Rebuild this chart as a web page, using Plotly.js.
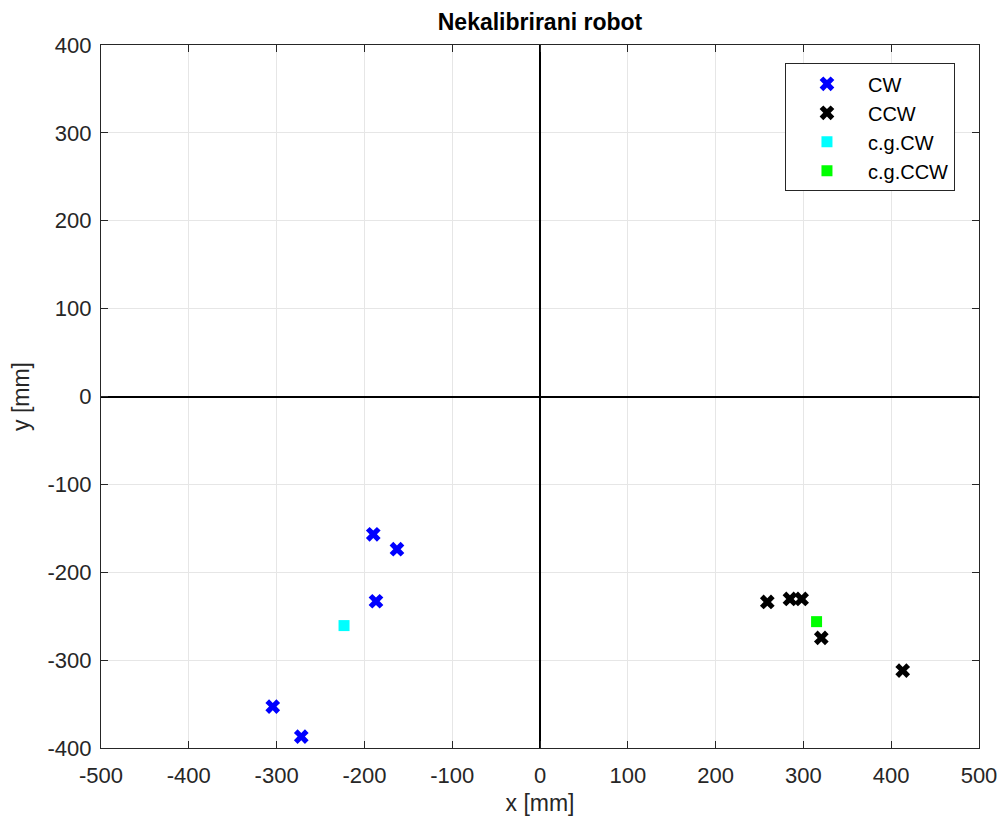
<!DOCTYPE html>
<html>
<head>
<meta charset="utf-8">
<script src="https://cdn.plot.ly/plotly-3.0.1.min.js"></script>
<style>html,body{margin:0;padding:0;background:#fff;}</style>
</head>
<body>
<div id="chart" style="width:1000px;height:820px;"></div>
<script>
// CW measurements
const cwX = [-189.9, -162.9, -186.8, -304.4, -271.9];
const cwY = [-156.8, -173.8, -233.0, -352.9, -387.0];
// CCW measurements
const ccwX = [258.9, 284.7, 298.0, 320.4, 413.1];
const ccwY = [-233.8, -230.4, -230.4, -274.7, -311.9];
// centres of gravity
const cgCwX = [-223.2];
const cgCwY = [-260.7];
const cgCcwX = [315.0];
const cgCcwY = [-256.2];

const xTicks = [-500, -400, -300, -200, -100, 0, 100, 200, 300, 400, 500];
const yTicks = [-400, -300, -200, -100, 0, 100, 200, 300, 400];

const font = "Liberation Sans, Arial, sans-serif";

const traces = [
  {x: cwX, y: cwY, mode: 'markers', type: 'scatter', name: 'CW',
   marker: {symbol: 'x', size: 13, color: '#0000ff'}},
  {x: ccwX, y: ccwY, mode: 'markers', type: 'scatter', name: 'CCW',
   marker: {symbol: 'x', size: 13, color: '#000000'}},
  {x: cgCwX, y: cgCwY, mode: 'markers', type: 'scatter', name: 'c.g.CW',
   marker: {symbol: 'square', size: 11, color: '#00ffff'}},
  {x: cgCcwX, y: cgCcwY, mode: 'markers', type: 'scatter', name: 'c.g.CCW',
   marker: {symbol: 'square', size: 11, color: '#00ff00'}}
];

const axisCommon = {
  showgrid: true, gridcolor: '#e6e6e6', gridwidth: 1,
  zeroline: true, zerolinecolor: '#000000', zerolinewidth: 2,
  showline: true, linecolor: '#262626', linewidth: 1.3, mirror: 'ticks',
  ticks: 'inside', ticklen: 7, tickcolor: '#262626', tickwidth: 1.3,
  tickfont: {family: font, size: 22, color: '#262626'}
};

const layout = {
  width: 1000, height: 820,
  margin: {l: 101, r: 21, t: 45, b: 72},
  paper_bgcolor: '#ffffff', plot_bgcolor: '#ffffff',
  title: {text: '<b>Nekalibrirani robot</b>', font: {family: font, size: 23, color: '#000'},
          x: 0.54, xanchor: 'center', y: 0.973, yanchor: 'middle'},
  xaxis: Object.assign({}, axisCommon, {
    range: [-500, 500], tickvals: xTicks, ticktext: xTicks.map(String),
    ticklabelstandoff: 7,
    title: {text: 'x [mm]', font: {family: font, size: 23, color: '#262626'}, standoff: 8}
  }),
  yaxis: Object.assign({}, axisCommon, {
    range: [-400, 400], tickvals: yTicks, ticktext: yTicks.map(String),
    ticklabelstandoff: 4,
    title: {text: 'y [mm]', font: {family: font, size: 23, color: '#262626'}, standoff: 11}
  }),
  showlegend: true,
  legend: {
    x: 0.779, y: 0.974, xanchor: 'left', yanchor: 'top',
    bgcolor: '#ffffff', bordercolor: '#262626', borderwidth: 1,
    font: {family: font, size: 20, color: '#000'},
    itemwidth: 72
  }
};

Plotly.newPlot('chart', traces, layout, {displayModeBar: false});
</script>
</body>
</html>
